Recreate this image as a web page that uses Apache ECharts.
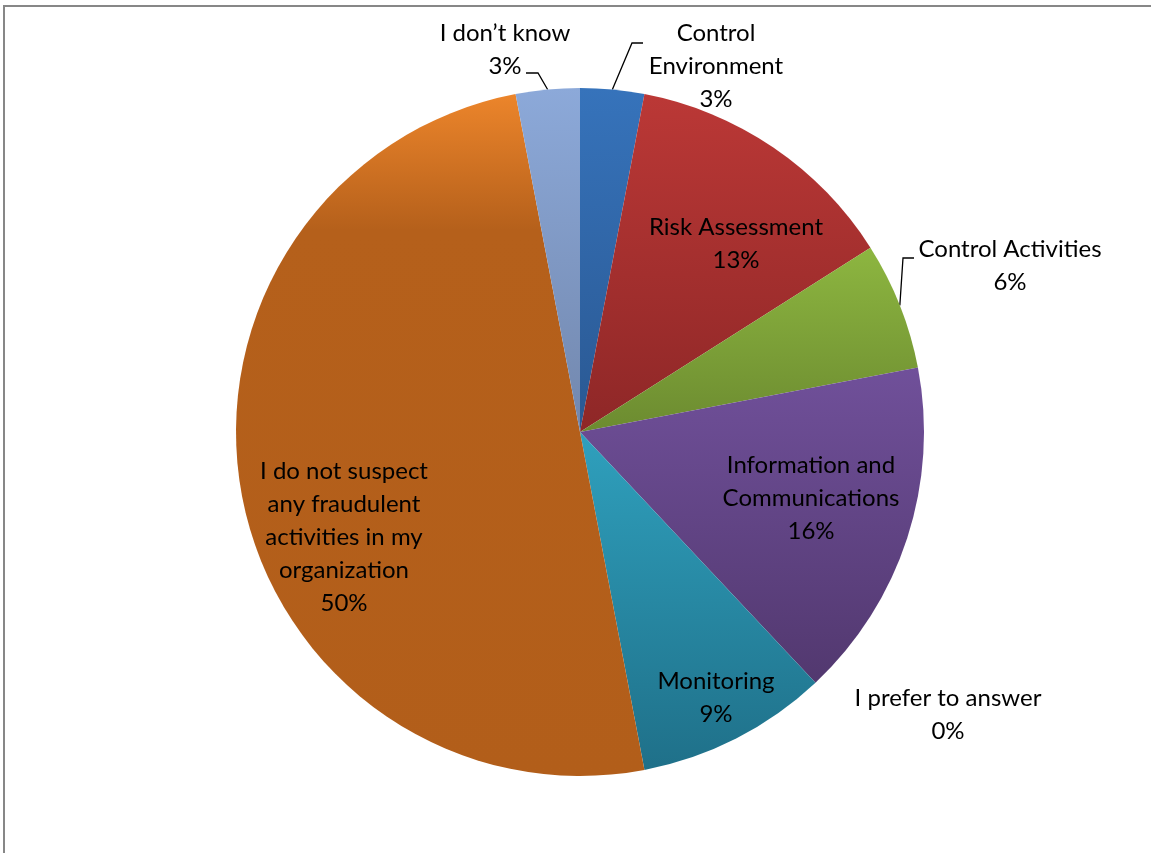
<!DOCTYPE html>
<html>
<head>
<meta charset="utf-8">
<script src="https://cdn.jsdelivr.net/npm/echarts@6/dist/echarts.min.js"></script>
<style>
  html, body { margin: 0; padding: 0; background: #fff; }
  #chart { position: absolute; left: 0; top: 0; width: 1151px; height: 853px; }
  #frame { position: absolute; left: 3px; top: 5px; right: 0; bottom: 0;
           border-left: 2px solid #878787; border-top: 2px solid #878787; pointer-events: none; }
</style>
</head>
<body>
<div id="chart"></div>
<div id="frame"></div>
<script>
// Survey answers: which internal-control component the suspected fraud relates to (share, %)
const categories = [
  'Control\nEnvironment',
  'Risk Assessment',
  'Control Activities',
  'Information and\nCommunications',
  'I prefer to answer',
  'Monitoring',
  'I do not suspect\nany fraudulent\nactivities in my\norganization',
  'I don\u2019t know'
];
const shares = [3, 13, 6, 16, 0, 9, 50, 3];

// Slice fills: vertical gradient stops, light at the top of each slice to dark at its bottom
const sliceGradients = [
  [[0, '#3673BB'], [1, '#2A5892']],
  [[0, '#BB3836'], [1, '#8E2727']],
  [[0, '#8DB640'], [1, '#6C8B30']],
  [[0, '#70509A'], [1, '#52386F']],
  [[0, '#2FA0BD'], [1, '#1F7089']],
  [[0, '#2FA0BD'], [1, '#1F7089']],
  [[0, '#EC852B'], [0.2, '#B5601B'], [1, '#B25E1A']],
  [[0, '#8CA9D9'], [1, '#7287AD']]
];

// Label block centres (fractions of the chart box); outside labels may carry a leader line
// whose elbow / end are given relative to the label centre in px
const labelPlacement = [
  { fx: 716 / 1151, fy: 66 / 853, outside: true, leader: [[-84, -23], [-73, -23]] },
  { fx: 736 / 1151, fy: 244 / 853, outside: false },
  { fx: 1010 / 1151, fy: 266 / 853, outside: true, leader: [[-107, -8], [-96, -8]] },
  { fx: 811 / 1151, fy: 498 / 853, outside: false },
  { fx: 948 / 1151, fy: 715 / 853, outside: true },
  { fx: 716 / 1151, fy: 698 / 853, outside: false },
  { fx: 344 / 1151, fy: 537 / 853, outside: false },
  { fx: 505 / 1151, fy: 50 / 853, outside: true, leader: [[33, 23], [21, 23]] }
];

const chart = echarts.init(document.getElementById('chart'), null, { renderer: 'canvas' });

const pieData = categories.map((name, i) => ({
  name: name,
  value: shares[i],
  itemStyle: {
    color: {
      type: 'linear', x: 0, y: 0, x2: 0, y2: 1,
      colorStops: sliceGradients[i].map(s => ({ offset: s[0], color: s[1] }))
    }
  },
  label: { position: labelPlacement[i].outside ? 'outside' : 'inside' },
  labelLine: { show: !!labelPlacement[i].leader }
}));

chart.setOption({
  animation: false,
  backgroundColor: '#ffffff',
  series: [{
    type: 'pie',
    center: [580, 432],
    radius: 344,
    startAngle: 90,
    clockwise: true,
    avoidLabelOverlap: false,
    itemStyle: { borderWidth: 0 },
    label: {
      show: true,
      color: '#000000',
      fontFamily: 'Lato, "Open Sans", sans-serif',
      fontSize: 24,
      lineHeight: 33,
      align: 'center',
      formatter: p => p.name + '\n' + p.value + '%'
    },
    labelLine: {
      length: 20,
      length2: 12,
      lineStyle: { color: '#000000', width: 1.3 }
    },
    labelLayout: function (params) {
      const pl = labelPlacement[params.dataIndex];
      const cx = pl.fx * chart.getWidth();
      const cy = pl.fy * chart.getHeight();
      const out = { x: cx, y: cy, align: 'center', verticalAlign: 'middle' };
      if (pl.leader && params.labelLinePoints && params.labelLinePoints.length) {
        const start = params.labelLinePoints[0];
        out.labelLinePoints = [
          [start[0], start[1]],
          [cx + pl.leader[0][0], cy + pl.leader[0][1]],
          [cx + pl.leader[1][0], cy + pl.leader[1][1]]
        ];
      }
      return out;
    },
    emphasis: { disabled: true },
    data: pieData
  }]
});
</script>
</body>
</html>
